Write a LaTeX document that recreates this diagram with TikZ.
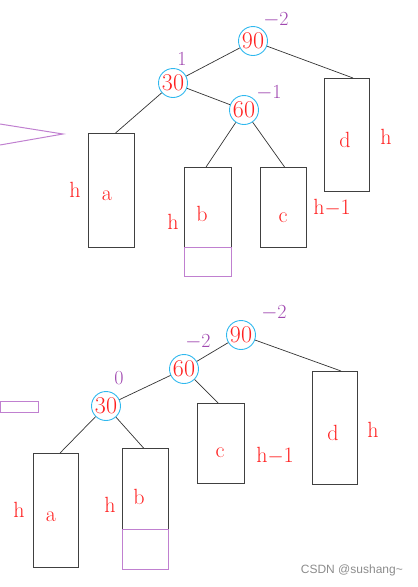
\documentclass[tikz,border=0pt]{standalone}
\usepackage{fontspec}
\newfontfamily\wmfont{Liberation Sans}
\definecolor{nred}{HTML}{FF2020}
\definecolor{npurp}{HTML}{A048B0}
\definecolor{lpurp}{HTML}{C080D0}
\definecolor{ncyan}{HTML}{30B8EE}
\definecolor{boxgray}{HTML}{404040}
\tikzset{
  circ/.style={circle,draw=ncyan,line width=0.9pt,minimum size=29pt,inner sep=0pt},
  numtxt/.style={text=nred,font=\fontsize{24}{26}\selectfont,inner sep=0pt},
  lbl/.style={text=nred,font=\fontsize{22}{24}\selectfont,inner sep=0pt},
  bf/.style={text=npurp,font=\fontsize{20}{22}\selectfont,inner sep=0pt},
  tbox/.style={draw=boxgray,line width=1.1pt,anchor=north west,inner sep=0pt},
  pbox/.style={draw=lpurp,line width=1.1pt,anchor=north west,inner sep=0pt},
  edge/.style={draw=black!80,line width=0.7pt},
}
\begin{document}
\begin{tikzpicture}[x=1pt,y=-1pt]
\useasboundingbox (0,0) rectangle (418,587);
% ---------- top tree ----------
\node[circ] (t90) at (253,41) {};
\node[numtxt] at (t90) {90};
\node[circ] (t30) at (173,83) {};
\node[numtxt] at (t30) {30};
\node[circ] (t60) at (244,110) {};
\node[numtxt] at (t60) {60};
\node[bf] (tb90) at (276,20) {$-$2};
\node[bf] (tb30) at (182,59) {1};
\node[bf] (tb60) at (269,93) {$-$1};

\node[tbox,minimum width=46pt,minimum height=114pt] (ta) at (88,133) {};
\node[tbox,minimum width=47pt,minimum height=80pt] (tb) at (184,167) {};
\node[pbox,minimum width=47pt,minimum height=29pt] (tbx) at (184,247) {};
\node[tbox,minimum width=46pt,minimum height=80pt] (tc) at (260,167) {};
\node[tbox,minimum width=45pt,minimum height=113pt] (td) at (324,78) {};

\node[lbl] at (107,196) {a};
\node[lbl] at (75,190) {h};
\node[lbl] at (202,214) {b};
\node[lbl] at (173,222) {h};
\node[lbl] at (283,218) {c};
\node[lbl] at (332,208) {h$-$1};
\node[lbl] at (345,140) {d};
\node[lbl] at (386,137) {h};

\draw[edge] (t90) -- ([xshift=6pt]td.north);
\draw[edge] (t90) -- (t30);
\draw[edge] (t30) -- (t60);
\draw[edge] (t30) -- ([xshift=4pt]ta.north);
\draw[edge] (t60) -- ([xshift=-2pt]tb.north);
\draw[edge] (t60) -- ([xshift=1pt]tc.north);

% purple wedge
\coordinate (w1) at (0,124);
\coordinate (w2) at (63,134);
\coordinate (w3) at (0,145);
\draw[draw=lpurp,line width=1pt] (w1) -- (w2) -- (w3);

% ---------- bottom tree ----------
\node[circ] (b90) at (241,335) {};
\node[numtxt] at (b90) {90};
\node[circ] (b60) at (184,369) {};
\node[numtxt] at (b60) {60};
\node[circ] (b30) at (106,406) {};
\node[numtxt] at (b30) {30};
\node[bf] at (274,313) {$-$2};
\node[bf] at (198,342) {$-$2};
\node[bf] at (119,378) {0};

\node[pbox,minimum width=38pt,minimum height=11pt] (bp) at (0,401) {};

\node[tbox,minimum width=45pt,minimum height=114pt] (ba) at (33,453) {};
\node[tbox,minimum width=46pt,minimum height=81pt] (bb) at (122,448) {};
\node[pbox,minimum width=46pt,minimum height=40pt] (bbx) at (122,529) {};
\node[tbox,minimum width=47pt,minimum height=80pt] (bc) at (197,403) {};
\node[tbox,minimum width=45pt,minimum height=113pt] (bd) at (312,371) {};

\node[lbl] at (51,517) {a};
\node[lbl] at (19,510) {h};
\node[lbl] at (139,497) {b};
\node[lbl] at (110,505) {h};
\node[lbl] at (220,453) {c};
\node[lbl] at (275,456) {h$-$1};
\node[lbl] at (333,433) {d};
\node[lbl] at (373,430) {h};

\draw[edge] (b90) -- ([xshift=6pt]bd.north);
\draw[edge] (b90) -- (b60);
\draw[edge] (b60) -- (b30);
\draw[edge] (b60) -- ([xshift=-3pt]bc.north);
\draw[edge] (b30) -- ([xshift=4pt]ba.north);
\draw[edge] (b30) -- ([xshift=-2pt]bb.north);

\node[text=black!45,font=\wmfont\fontsize{12}{14}\selectfont,anchor=east,inner sep=0pt] (wm) at (403,570) {CSDN @sushang\textasciitilde};
\end{tikzpicture}
\end{document}
